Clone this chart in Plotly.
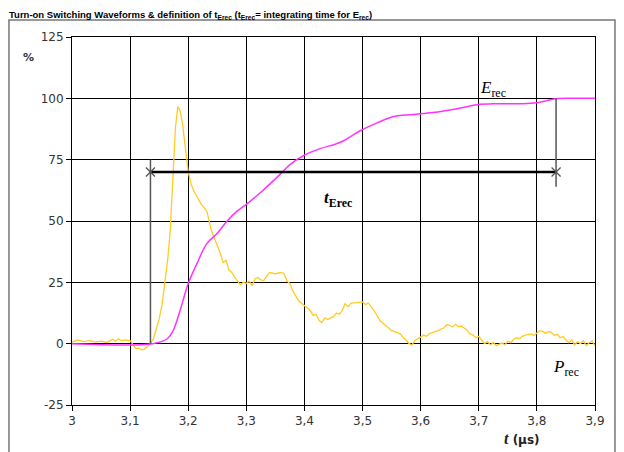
import plotly.graph_objects as go

# P_rec waveform (yellow), %
p_t = [3.000, 3.010, 3.020, 3.030, 3.040, 3.050, 3.060, 3.070, 3.075, 3.080, 3.085, 3.090,
       3.100, 3.105, 3.110, 3.115, 3.120, 3.125, 3.130, 3.135, 3.140, 3.150, 3.155, 3.160,
       3.165, 3.169, 3.174, 3.178, 3.182, 3.186, 3.190, 3.195, 3.200, 3.205, 3.210, 3.215,
       3.222, 3.232, 3.240, 3.250, 3.255, 3.260, 3.265, 3.270, 3.275, 3.280, 3.290, 3.295,
       3.300, 3.305, 3.310, 3.315, 3.320, 3.325, 3.330, 3.335, 3.340, 3.350, 3.360, 3.365,
       3.370, 3.375, 3.380, 3.390, 3.400, 3.405, 3.410, 3.415, 3.420, 3.425, 3.430, 3.435,
       3.440, 3.445, 3.450, 3.455, 3.460, 3.465, 3.470, 3.475, 3.480, 3.490, 3.500, 3.505,
       3.510, 3.515, 3.520, 3.530, 3.540, 3.550, 3.560, 3.565, 3.570, 3.575, 3.580, 3.585,
       3.590, 3.600, 3.605, 3.610, 3.615, 3.620, 3.630, 3.640, 3.645, 3.650, 3.655, 3.660,
       3.665, 3.670, 3.675, 3.680, 3.685, 3.690, 3.695, 3.700, 3.705, 3.710, 3.715, 3.720,
       3.725, 3.730, 3.740, 3.745, 3.750, 3.755, 3.760, 3.765, 3.770, 3.775, 3.780, 3.790,
       3.795, 3.800, 3.805, 3.810, 3.815, 3.820, 3.825, 3.830, 3.835, 3.840, 3.845, 3.850,
       3.855, 3.860, 3.865, 3.870, 3.875, 3.880, 3.885, 3.890, 3.895, 3.900]
p_rec = [0.5, 1.5, 0.8, 1.2, 0.6, 1.0, 0.5, 1.8, 1.0, 2.0, 1.2, 1.5,
         1.2, -0.5, -2.0, -1.8, -2.5, -2.2, -1.0, 0.0, 2.0, 10.0, 16.0, 24.5,
         35.0, 46.0, 69.0, 88.0, 96.6, 95.0, 90.0, 80.0, 70.0, 65.0, 62.0, 60.0,
         57.0, 54.0, 46.0, 40.0, 37.0, 33.0, 34.0, 30.0, 29.0, 27.0, 24.0, 25.0,
         24.5, 25.5, 23.6, 26.5, 27.0, 26.0, 25.7, 27.5, 29.0, 28.5, 29.0, 28.5,
         25.5, 24.5, 21.5, 17.5, 15.5, 14.7, 13.5, 11.5, 12.0, 9.5, 8.6, 10.5,
         9.8, 10.5, 11.0, 12.5, 12.0, 13.5, 16.3, 15.0, 16.5, 16.7, 17.0, 16.0,
         16.5, 15.0, 13.5, 9.4, 7.5, 5.3, 4.5, 4.0, 2.5, 1.5, 0.0, -0.5,
         1.2, 2.6, 3.5, 3.0, 4.0, 4.5, 5.3, 6.5, 7.7, 7.5, 6.8, 7.9,
         6.9, 7.2, 6.5, 5.5, 4.0, 3.5, 2.4, 3.0, 1.5, 0.0, 0.8, -0.5,
         0.5, -0.8, 0.3, -0.5, 1.0, 0.4, 1.8, 2.4, 2.0, 3.0, 3.5, 4.0,
         3.3, 4.5, 5.3, 5.0, 4.2, 5.0, 4.5, 3.3, 3.8, 2.4, 3.0, 1.5,
         0.4, 1.5, -0.5, 0.8, 0.0, 1.2, -0.8, 0.4, 1.0, -0.8]

# E_rec integral (magenta), %
e_t = [3.000, 3.139, 3.164, 3.174, 3.186, 3.200, 3.215, 3.232, 3.250, 3.267, 3.284,
       3.301, 3.324, 3.358, 3.375, 3.398, 3.427, 3.461, 3.496, 3.525, 3.552, 3.587,
       3.621, 3.663, 3.697, 3.731, 3.771, 3.800, 3.835, 3.874, 3.900]
e_rec = [0.0, 0.0, 2.0, 5.3, 13.5, 24.5, 32.6, 40.8, 45.0, 50.0, 54.0,
         57.0, 61.5, 69.0, 73.0, 76.6, 79.5, 82.0, 86.8, 90.0, 92.5, 93.4,
         94.2, 95.8, 97.4, 97.8, 97.8, 98.2, 99.9, 100.0, 100.0]

# t_Erec window
t_start, t_end, t_level = 3.135, 3.833, 70

x_ticks = [3.0, 3.1, 3.2, 3.3, 3.4, 3.5, 3.6, 3.7, 3.8, 3.9]
x_labels = ['3', '3,1', '3,2', '3,3', '3,4', '3,5', '3,6', '3,7', '3,8', '3,9']
y_ticks = [-25, 0, 25, 50, 75, 100, 125]
y_labels = ['-25', '0', '25', '50', '75', '100', '125']

fig = go.Figure()
fig.add_trace(go.Scatter(x=p_t, y=p_rec, mode='lines',
    line=dict(color='#FFCC22', width=1.3)))
fig.add_trace(go.Scatter(x=e_t, y=e_rec, mode='lines', line_shape='spline',
    line=dict(color='#FF33FF', width=1.5)))
# vertical markers
fig.add_trace(go.Scatter(x=[t_start, t_start], y=[0, 75], mode='lines',
    line=dict(color='#555555', width=1.5)))
fig.add_trace(go.Scatter(x=[t_end, t_end], y=[64, 100], mode='lines',
    line=dict(color='#555555', width=1.5)))
# t_Erec bar
fig.add_trace(go.Scatter(x=[t_start, t_end], y=[t_level, t_level], mode='lines',
    line=dict(color='black', width=2.5)))
fig.add_trace(go.Scatter(x=[t_start, t_end], y=[t_level, t_level], mode='markers',
    marker=dict(symbol='x-thin', size=9, line=dict(color='#555555', width=1.3))))

fig.update_xaxes(range=[3, 3.9], tickvals=x_ticks, ticktext=x_labels,
    showgrid=True, gridcolor='black', gridwidth=1, showline=True, linecolor='black',
    mirror=True, ticks='outside', ticklen=5, tickcolor='black', zeroline=False,
    tickfont=dict(family='DejaVu Sans', size=12, color='#333333'))
fig.update_yaxes(range=[-25, 125], tickvals=y_ticks, ticktext=y_labels,
    showgrid=True, gridcolor='black', gridwidth=1, showline=True, linecolor='black',
    mirror=True, ticks='outside', ticklen=5, tickcolor='black', zeroline=False,
    tickfont=dict(family='DejaVu Sans', size=12, color='#333333'))

serif = dict(family='Liberation Serif', size=17, color='black')
fig.add_annotation(x=3.725, y=104, text='<i>E</i><sub>rec</sub>', showarrow=False,
    font=serif, xanchor='center', yanchor='middle')
fig.add_annotation(x=3.458, y=59, text='<b><i>t</i><sub>Erec</sub></b>', showarrow=False,
    font=serif, xanchor='center', yanchor='middle')
fig.add_annotation(x=3.85, y=-10, text='<i>P</i><sub>rec</sub>', showarrow=False,
    font=serif, xanchor='center', yanchor='middle')
# axis labels
fig.add_annotation(xref='paper', yref='paper', x=0.86, y=-0.09,
    text='<b><i>t</i></b><b><span style="font-family:DejaVu Sans;font-size:12px"> (µs)</span></b>',
    showarrow=False, font=dict(family='Liberation Serif', size=16, color='#222222'),
    xanchor='center', yanchor='middle')
fig.add_annotation(xref='paper', yref='paper', x=-0.084, y=0.943, text='<b>%</b>',
    showarrow=False, font=dict(family='DejaVu Sans', size=11, color='#333333'),
    xanchor='center', yanchor='middle')
# title
fig.add_annotation(xref='paper', yref='paper', x=-0.122, y=1.0788, xanchor='left',
    yanchor='top', showarrow=False, borderpad=0,
    text='<b>Turn-on Switching Waveforms & definition of t<sub>Erec</sub> '
         '(t<sub>Erec</sub>= integrating time for E<sub>rec</sub>)</b>',
    font=dict(family='Liberation Sans', size=9.5, color='black'))
# outer frame
fig.add_shape(type='rect', xref='paper', yref='paper', x0=-0.1205, x1=1.0382,
    y0=-0.2, y1=1.0462, line=dict(color='#777777', width=1.5), layer='below')

# page body adds an 8px margin, so the figure is 8px smaller and margins shifted
fig.update_layout(width=616, height=444, showlegend=False,
    margin=dict(l=64, r=29, t=29, b=47),
    plot_bgcolor='white', paper_bgcolor='white')
fig.write_html("out.html")
